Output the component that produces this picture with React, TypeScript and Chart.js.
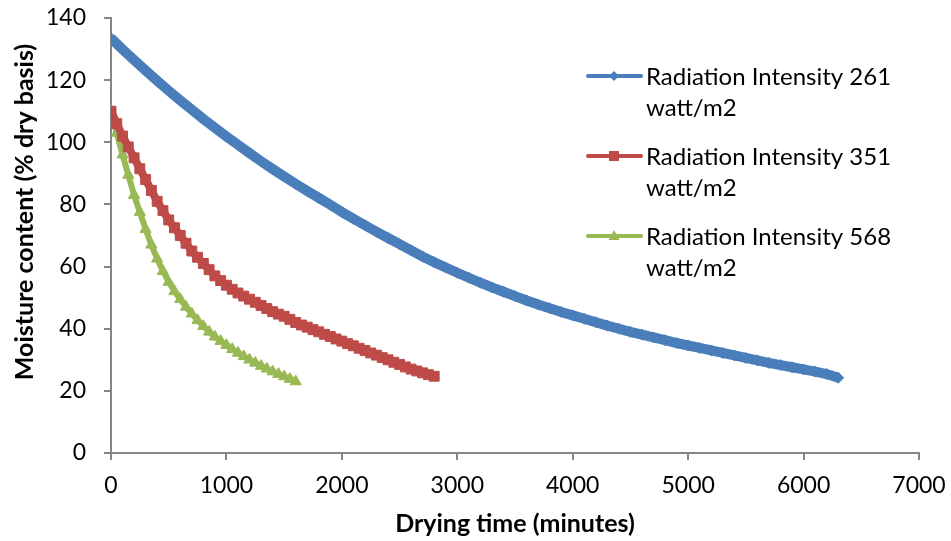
import React, { useEffect, useRef } from "react";
import { Chart, registerables } from "chart.js";

Chart.register(...registerables);

// Drying time step (minutes) between readings
const blueStep = 100;
const redStep = 50;
const greenStep = 50;

// Moisture content (% dry basis)
const blueValues = [
  133.5, 129.9, 126.5, 123.1, 119.8, 116.6, 113.5, 110.5, 107.5, 104.7, 101.9, 99.2,
  96.5, 93.9, 91.4, 89.0, 86.6, 84.3, 82.1, 79.9, 77.6, 75.4, 73.3, 71.2, 69.2, 67.2,
  65.2, 63.2, 61.4, 59.7, 58.0, 56.4, 54.8, 53.3, 51.9, 50.5, 49.1, 47.8, 46.6, 45.4,
  44.3, 43.2, 42.1, 41.0, 40.0, 39.0, 38.1, 37.2, 36.3, 35.4, 34.6, 33.8, 33.0, 32.2,
  31.4, 30.6, 29.8, 29.0, 28.3, 27.6, 26.9, 26.2, 25.4, 24.2,
];
const redValues = [
  110, 106, 102, 98.5, 95, 91.5, 88, 84.5, 81, 78, 75, 72.5, 70, 67.5, 65, 63, 61, 59,
  57, 55.5, 54, 52.7, 51.5, 50.5, 49.5, 48.5, 47.5, 46.5, 45.5, 44.7, 44, 43, 42, 41.2,
  40.5, 39.7, 39, 38.2, 37.5, 36.7, 36, 35.2, 34.5, 33.7, 33, 32.2, 31.5, 30.7, 30,
  29.2, 28.5, 27.7, 27, 26.4, 25.8, 25.2, 24.7,
];
const greenValues = [
  110, 103, 96, 89.5, 83, 77.5, 72, 67, 62.5, 58.5, 55, 52, 49.5, 47, 44.8, 42.7, 40.8,
  39, 37.4, 36, 34.7, 33.4, 32.2, 31.1, 30, 29, 28, 27.1, 26.2, 25.4, 24.6, 23.8, 23,
];

const seriesNames = [
  ["Radiation Intensity 261", "watt/m2"],
  ["Radiation Intensity 351", "watt/m2"],
  ["Radiation Intensity 568", "watt/m2"],
];
const seriesColors = ["#4A7EBB", "#BE4B48", "#98B954"];
const seriesMarkers = ["rectRot", "rect", "triangle"];

const xTitle = "Drying time (minutes)";
const yTitle = "Moisture content (% dry basis)";

const toPoints = (vals: number[], step: number) =>
  vals.map((v, i) => ({ x: i * step, y: v }));

export default function App() {
  const ref = useRef<HTMLCanvasElement | null>(null);

  useEffect(() => {
    document.body.style.margin = "0";
    const canvas = ref.current;
    if (!canvas) return;
    const font = "Lato";

    const overlay = {
      id: "overlay",
      afterDraw(chart: any) {
        const ctx = chart.ctx;
        const area = chart.chartArea;
        ctx.save();
        ctx.fillStyle = "#000";
        ctx.font = `bold 25px ${font}`;
        ctx.textAlign = "center";
        ctx.textBaseline = "middle";
        ctx.fillText(xTitle, (area.left + area.right) / 2, 524);
        ctx.save();
        ctx.translate(25, 212);
        ctx.rotate(-Math.PI / 2);
        ctx.fillText(yTitle, 0, 0);
        ctx.restore();
        ctx.font = `24px ${font}`;
        ctx.textAlign = "left";
        for (let i = 0; i < 3; i++) {
          const y = 76 + i * 80;
          const c = seriesColors[i];
          ctx.strokeStyle = c;
          ctx.lineWidth = 4;
          ctx.lineCap = "round";
          ctx.beginPath();
          ctx.moveTo(588, y);
          ctx.lineTo(641, y);
          ctx.stroke();
          ctx.fillStyle = c;
          ctx.beginPath();
          if (i === 0) {
            ctx.moveTo(614, y - 5);
            ctx.lineTo(619, y);
            ctx.lineTo(614, y + 5);
            ctx.lineTo(609, y);
          } else if (i === 1) {
            ctx.rect(609, y - 5, 10, 10);
          } else {
            ctx.moveTo(614, y - 6);
            ctx.lineTo(619.5, y + 4);
            ctx.lineTo(608.5, y + 4);
          }
          ctx.closePath();
          ctx.fill();
          ctx.fillStyle = "#000";
          ctx.fillText(seriesNames[i][0], 646, y + 1);
          ctx.fillText(seriesNames[i][1], 646, y + 32);
        }
        ctx.restore();
      },
    };

    const mk = (i: number, pts: any[], lw: number, r: number) => ({
      label: seriesNames[i].join(" "),
      data: pts,
      borderColor: seriesColors[i],
      backgroundColor: seriesColors[i],
      borderWidth: lw,
      pointStyle: seriesMarkers[i],
      pointRadius: r,
      pointBorderWidth: 1,
      pointBorderColor: seriesColors[i],
      pointBackgroundColor: seriesColors[i],
      tension: 0,
    });

    const chart = new Chart(canvas, {
      type: "line",
      data: {
        datasets: [
          mk(0, toPoints(blueValues, blueStep), 10, 5.5),
          mk(1, toPoints(redValues, redStep), 8, 7),
          mk(2, toPoints(greenValues, greenStep), 6, 6.5),
        ],
      },
      plugins: [overlay],
      options: {
        responsive: false,
        animation: false,
        events: [],
        layout: { padding: { top: 18, right: 32, left: 0, bottom: 0 } },
        plugins: { legend: { display: false }, tooltip: { enabled: false } },
        scales: {
          x: {
            type: "linear",
            min: 0,
            max: 7000,
            ticks: {
              stepSize: 1000,
              color: "#000",
              font: { family: font, size: 23 },
              padding: 12,
              maxRotation: 0,
              callback: (v: any) => String(v),
            },
            grid: {
              drawOnChartArea: false,
              tickLength: 7,
              color: "#868686",
              lineWidth: 2,
            },
            border: { color: "#868686", width: 2 },
            afterFit: (s: any) => {
              s.height = 88;
              s.paddingLeft = 0;
              s.paddingRight = 0;
            },
          },
          y: {
            min: 0,
            max: 140,
            ticks: {
              stepSize: 20,
              color: "#000",
              font: { family: font, size: 23 },
              padding: 18,
              callback: (v: any) => String(v),
            },
            grid: {
              drawOnChartArea: false,
              tickLength: 7,
              color: "#868686",
              lineWidth: 2,
            },
            border: { color: "#868686", width: 2 },
            afterFit: (s: any) => {
              s.width = 111;
              s.paddingTop = 0;
              s.paddingBottom = 0;
            },
          },
        },
      },
    } as any);
    return () => chart.destroy();
  }, []);

  return (
    <div style={{ width: 951, height: 541 }}>
      <canvas ref={ref} width={951} height={541} />
    </div>
  );
}
